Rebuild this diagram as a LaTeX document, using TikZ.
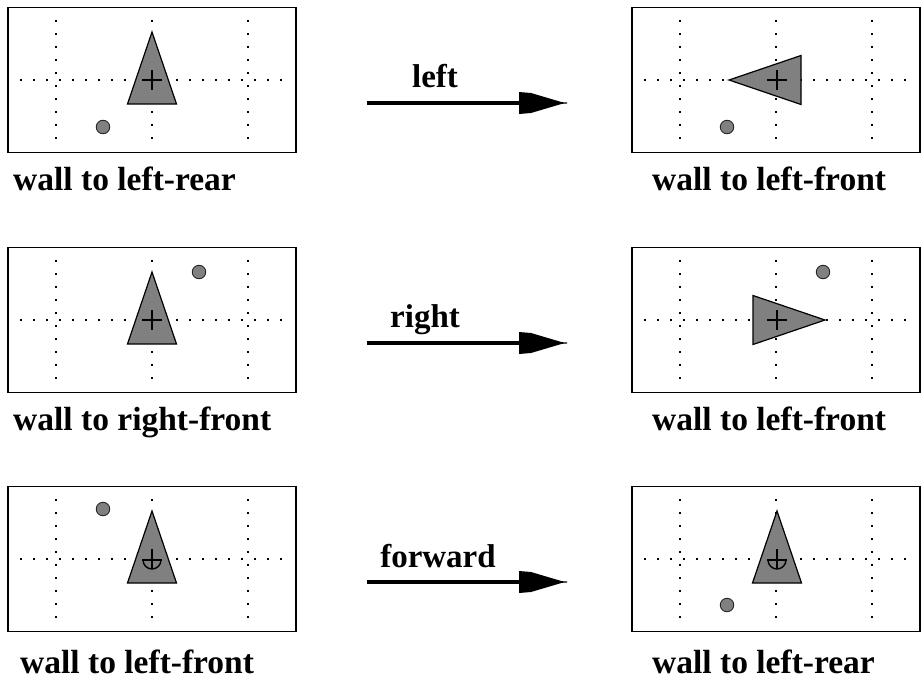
\documentclass[tikz,border=0pt]{standalone}
\usepackage{fontspec}
\setmainfont{Liberation Serif}
\begin{document}
\begin{tikzpicture}[x=1pt,y=-1pt,
  panelbox/.style={draw=black, line width=1.8pt, minimum width=288pt, minimum height=145pt, inner sep=0pt},
  gridline/.style={line width=1.8pt, dash pattern=on 1.8pt off 11.2pt},
  robot/.style={draw=black, line width=1.2pt, fill=black!50},
  marker/.style={line width=1.4pt},
  wallbead/.style={circle, draw=black!85, line width=0.9pt, fill=black!50, minimum size=13.5pt, inner sep=0pt},
  caption/.style={anchor=base west, inner sep=0pt, font=\fontsize{33.5}{38}\selectfont\bfseries},
  actlabel/.style={anchor=base, inner sep=0pt, font=\fontsize{33}{38}\selectfont\bfseries},
  movearrow/.style={line width=4pt},
  headfill/.style={fill=black}]
\useasboundingbox (0,0) rectangle (921,691);

% panel: name, cx, cy
\newcommand{\gridpanel}[3]{%
  \node[panelbox] (#1) at (#2,#3) {};
  \draw[gridline] ({#2-132},#3) -- ({#2+138},#3);
  \foreach \dx in {-96,0,96} {\draw[gridline] ({#2+\dx},{#3-60}) -- ({#2+\dx},{#3+62});}
}
\newcommand{\robotup}[2]{%
  \draw[robot] (#1,{#2-48}) -- ({#1+24.5},{#2+24}) -- ({#1-24.5},{#2+24}) -- cycle;
  \draw[marker] ({#1-10},#2) -- ({#1+10},#2) ({#1},{#2-10}) -- ({#1},{#2+10});
}
\newcommand{\robotleft}[2]{%
  \draw[robot] ({#1-48},#2) -- ({#1+24},{#2-24.5}) -- ({#1+24},{#2+24.5}) -- cycle;
  \draw[marker] ({#1-10},#2) -- ({#1+10},#2) ({#1},{#2-10}) -- ({#1},{#2+10});
}
\newcommand{\robotright}[2]{%
  \draw[robot] ({#1+48},#2) -- ({#1-24},{#2-24.5}) -- ({#1-24},{#2+24.5}) -- cycle;
  \draw[marker] ({#1-10},#2) -- ({#1+10},#2) ({#1},{#2-10}) -- ({#1},{#2+10});
}
\newcommand{\robotfwd}[2]{%
  \draw[robot] (#1,{#2-48}) -- ({#1+24.5},{#2+24}) -- ({#1-24.5},{#2+24}) -- cycle;
  \draw[marker] ({#1-10},{#2+1}) -- ({#1+10},{#2+1}) ({#1},{#2-10}) -- ({#1},{#2+10});
  \draw[marker] ({#1-9},{#2+1}) arc[start angle=180, end angle=360, radius=9pt];
}
\newcommand{\arrowhead}[1]{%
  \fill[headfill] (519,{#1-11}) -- (531,{#1-10}) -- (562,{#1-0.8}) -- (567,{#1-0.6}) -- (567,{#1+0.6}) -- (562,{#1+0.8}) -- (531,{#1+10}) -- (519,{#1+11}) -- cycle;
}

% row 1
\gridpanel{p1l}{152}{80}
\robotup{152}{80}
\node[wallbead] (d1l) at (103,127) {};
\gridpanel{p1r}{776}{80}
\robotleft{777}{80}
\node[wallbead] (d1r) at (727,127) {};
\node[caption] (c1l) at (13,190) {wall to left-rear};
\node[caption] (c1r) at (652,190) {wall to left-front};
\coordinate (a1s) at (367,103);
\coordinate (a1e) at (522,103);
\draw[movearrow] (a1s) -- (a1e);
\arrowhead{103}
\node[actlabel] (l1) at (435,87) {left};

% row 2
\gridpanel{p2l}{152}{320}
\robotup{152}{320}
\node[wallbead] (d2l) at (199,272) {};
\gridpanel{p2r}{776}{320}
\robotright{777}{320}
\node[wallbead] (d2r) at (823,272) {};
\node[caption] (c2l) at (13,430) {wall to right-front};
\node[caption] (c2r) at (652,430) {wall to left-front};
\coordinate (a2s) at (367,343);
\coordinate (a2e) at (522,343);
\draw[movearrow] (a2s) -- (a2e);
\arrowhead{343}
\node[actlabel] (l2) at (425,327) {right};

% row 3
\gridpanel{p3l}{152}{559}
\robotfwd{152}{559}
\node[wallbead] (d3l) at (103,509) {};
\gridpanel{p3r}{776}{559}
\robotfwd{777}{559}
\node[wallbead] (d3r) at (727,605) {};
\node[caption] (c3l) at (20,673) {wall to left-front};
\node[caption] (c3r) at (652,673) {wall to left-rear};
\coordinate (a3s) at (367,582);
\coordinate (a3e) at (522,582);
\draw[movearrow] (a3s) -- (a3e);
\arrowhead{582}
\node[actlabel] (l3) at (438,567) {forward};
\end{tikzpicture}
\end{document}
